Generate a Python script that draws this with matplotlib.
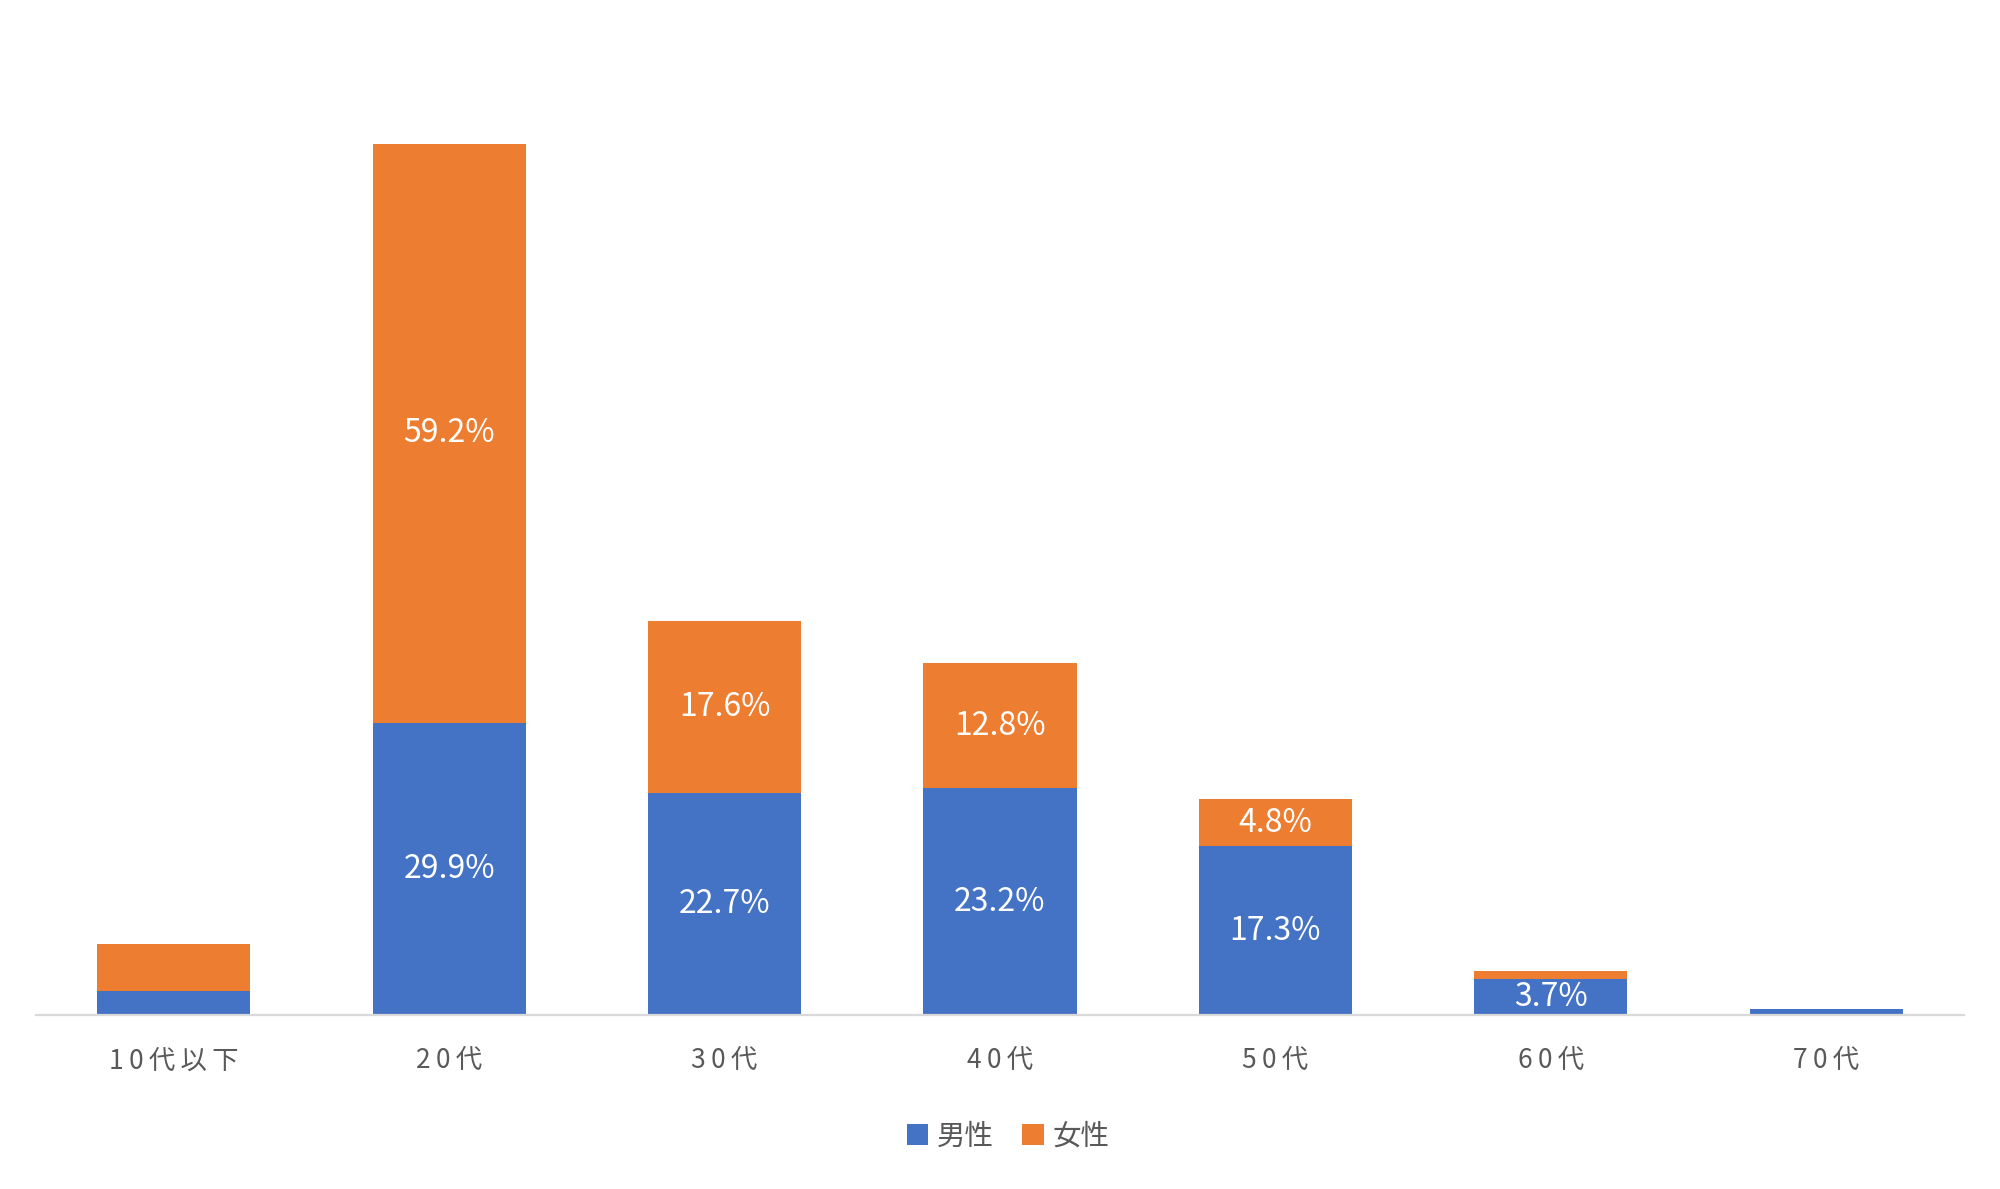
import matplotlib
matplotlib.use("Agg")
import matplotlib.pyplot as plt
import numpy as np

plt.rcParams['font.family'] = ['Noto Sans CJK JP', 'DejaVu Sans']

# age groups and shares (%) per gender
categories = ['10代以下', '20代', '30代', '40代', '50代', '60代', '70代']
male = [2.5, 29.9, 22.7, 23.2, 17.3, 3.7, 0.7]
female = [4.8, 59.2, 17.6, 12.8, 4.8, 0.8, 0.0]
# which segments carry a label in the original
male_shown = [False, True, True, True, True, True, False]
female_shown = [False, True, True, True, True, False, False]

blue = '#4472C4'
orange = '#ED7D31'
grey = '#595959'

fig = plt.figure(figsize=(20, 11.89), dpi=100)
ax = fig.add_axes([0.018, 0.146, 0.964, 0.823])

x = np.arange(len(categories))
w = 0.556
b1 = ax.bar(x, male, w, color=blue, label='男性', zorder=2)
b2 = ax.bar(x, female, w, bottom=male, color=orange, label='女性', zorder=2)

for i in range(len(categories)):
    if male_shown[i]:
        ax.text(x[i], male[i] / 2, '%.1f%%' % male[i], ha='center', va='center',
                color='white', fontsize=23)
    if female_shown[i]:
        ax.text(x[i], male[i] + female[i] / 2, '%.1f%%' % female[i], ha='center',
                va='center', color='white', fontsize=23)

ax.set_xlim(-0.5, len(categories) - 0.5)
ax.set_ylim(0, 100)
ax.set_yticks([])
for s in ['top', 'right', 'left']:
    ax.spines[s].set_visible(False)
ax.spines['bottom'].set_color('#D9D9D9')
ax.spines['bottom'].set_linewidth(1.6)
ax.spines['bottom'].set_zorder(3)

spaced = ['\u2009'.join(list(c)) for c in categories]
ax.set_xticks(x)
ax.set_xticklabels(spaced, fontsize=19, color=grey)
ax.tick_params(axis='x', length=0, pad=23)

leg = fig.legend(handles=[b1, b2], loc='center', bbox_to_anchor=(0.504, 0.044),
                 ncol=2, frameon=False, fontsize=20.5, handlelength=0.75,
                 handleheight=0.75, handletextpad=0.3, columnspacing=1.0)
for t in leg.get_texts():
    t.set_color(grey)

fig.savefig('out.png', dpi=100, facecolor='white')
